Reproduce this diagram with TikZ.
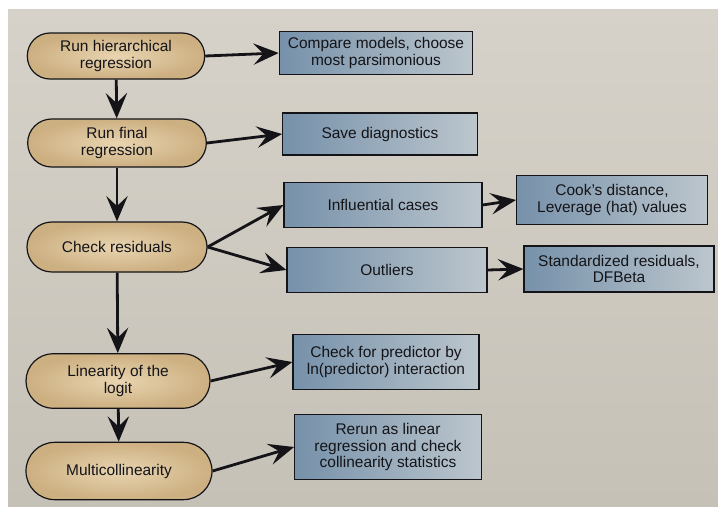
\documentclass[tikz,border=0pt]{standalone}
\usepackage{fontspec}
\setmainfont{Liberation Sans}
\usetikzlibrary{arrows.meta}

\definecolor{pagetop}{RGB}{214,210,201}
\definecolor{pagebot}{RGB}{198,193,183}
\definecolor{tanlight}{RGB}{232,212,176}
\definecolor{tandark}{RGB}{205,176,130}
\definecolor{bluedark}{RGB}{118,145,170}
\definecolor{bluelight}{RGB}{188,198,205}
\definecolor{ink}{RGB}{20,20,24}

\tikzset{
  labelfont/.style={font=\fontsize{11.6}{12.6}\selectfont, text=ink},
  ovalbox/.style={labelfont, draw=ink, line width=0.9pt, align=center,
    inner color=tanlight, outer color=tandark, inner sep=2pt},
  rectbox/.style={labelfont, draw=ink, line width=0.9pt, align=center,
    left color=bluedark, right color=bluelight, inner sep=2pt},
  flow/.style={draw=ink, line width=2.1pt,
    -{Stealth[length=19pt,width=16pt,inset=7.5pt]}},
}

\begin{document}
\begin{tikzpicture}[x=0.75pt,y=-0.75pt]
  \useasboundingbox (0,0) rectangle (718,507);
  \fill[white] (0,0) rectangle (718,507);
  \shade[top color=pagetop, bottom color=pagebot] (8,9) rectangle (718,507);

  % process steps (rounded)
  \node[ovalbox, minimum width=133pt, minimum height=34.5pt, rounded corners=17pt]
    (hier) at (116,56) {Run hierarchical\\regression};
  \node[ovalbox, minimum width=134pt, minimum height=36pt, rounded corners=18pt]
    (final) at (117,143) {Run final\\regression};
  \node[ovalbox, minimum width=135pt, minimum height=37.5pt, rounded corners=18.7pt]
    (resid) at (117,247) {Check residuals};
  \node[ovalbox, minimum width=138pt, minimum height=41pt, rounded corners=20.5pt]
    (logit) at (118,381) {Linearity of the\\logit};
  \node[ovalbox, minimum width=139.5pt, minimum height=43pt, rounded corners=21.5pt]
    (multi) at (119,471) {Multicollinearity};

  % outcomes (rectangles)
  \node[rectbox, minimum width=145pt, minimum height=32pt]
    (compare) at (376,53) {Compare models, choose\\most parsimonious};
  \node[rectbox, minimum width=146pt, minimum height=31.5pt]
    (save) at (380,134) {Save diagnostics};
  \node[rectbox, minimum width=148.5pt, minimum height=34pt]
    (infl) at (383,205) {Influential cases};
  \node[rectbox, minimum width=150pt, minimum height=34pt]
    (outl) at (387,270) {Outliers};
  \node[rectbox, minimum width=143pt, minimum height=37pt]
    (cook) at (612,200) {Cook's distance,\\Leverage (hat) values};
  \node[rectbox, minimum width=142.5pt, minimum height=34.5pt]
    (stdres) at (619,269) {Standardized residuals,\\DFBeta};
  \node[rectbox, minimum width=139.5pt, minimum height=41pt]
    (lnint) at (386,362) {Check for predictor by\\ln(predictor) interaction};
  \node[rectbox, minimum width=140pt, minimum height=49pt]
    (rerun) at (388,447) {Rerun as linear\\regression and check\\collinearity statistics};

  % main sequence
  \draw[flow] (hier) -- (final);
  \draw[flow] (final) -- (resid);
  \draw[flow] (resid) -- (logit);
  \draw[flow] (logit) -- (multi);

  % side branches
  \draw[flow] (hier.east) -- (compare.west);
  \draw[flow] (final.east) -- (save.west);
  \draw[flow] (resid.east) -- (infl.west);
  \draw[flow] (resid.east) -- (outl.west);
  \draw[flow] (infl.east) -- (cook.west);
  \draw[flow] (outl.east) -- (stdres.west);
  \draw[flow] (logit.east) -- (lnint.west);
  \draw[flow] (multi.east) -- (rerun.west);
\end{tikzpicture}
\end{document}
